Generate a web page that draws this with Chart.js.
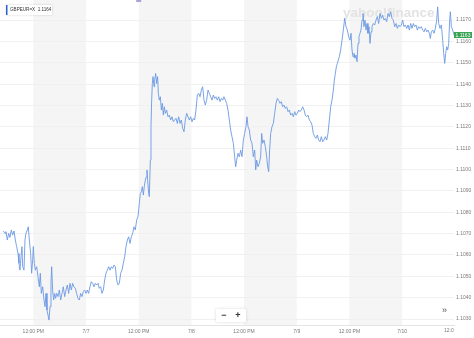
<!DOCTYPE html>
<html><head><meta charset="utf-8">
<script src="https://cdn.jsdelivr.net/npm/chart.js@4/dist/chart.umd.min.js"></script>
<style>html,body{margin:0;padding:0;background:#fff;overflow:hidden}canvas{display:block}</style>
</head><body>
<canvas id="c" width="474" height="338"></canvas>
<script>
const symbol = "GBPEUR=X";
const legendPrice = "1.1164";
const lastPriceLabel = "1.1163";
const lastPrice = 1.1163;
const watermarkText = "yahoo!finance";

// hours since 7/6 00:00
const hours = [
5.17,5.55,5.77,6.08,6.38,6.68,6.99,7.29,7.60,7.90,
8.20,8.51,8.73,8.96,9.19,9.42,9.57,9.87,10.10,10.33,
10.63,10.86,11.09,11.39,11.62,11.85,12.00,12.23,12.46,12.76,
13.06,13.37,13.59,13.82,14.13,14.43,14.66,14.89,15.11,15.34,
15.57,15.80,16.02,16.18,16.40,16.63,16.86,17.09,17.32,17.62,
17.92,18.23,18.53,18.83,19.14,19.44,19.74,20.05,20.35,20.66,
20.96,21.26,21.57,21.87,22.17,22.48,22.78,23.09,23.39,23.69,
24.00,24.30,24.60,24.91,25.21,25.52,25.82,26.12,26.43,26.73,
27.03,27.34,27.64,27.95,28.25,28.55,28.86,29.16,29.46,29.77,
30.07,30.38,30.68,30.98,31.29,31.59,31.89,32.20,32.50,32.81,
33.11,33.41,33.72,34.02,34.32,34.63,34.93,35.23,35.54,35.84,
36.15,36.37,36.60,36.83,37.06,37.28,37.51,37.74,37.89,38.04,
38.27,38.42,38.65,38.80,38.96,39.11,39.26,39.49,39.64,39.87,
40.09,40.32,40.47,40.70,40.93,41.16,41.39,41.61,41.84,42.07,
42.37,42.68,42.98,43.28,43.59,43.89,44.19,44.50,44.80,45.11,
45.41,45.71,46.02,46.32,46.62,46.93,47.23,47.54,47.84,48.14,
48.45,48.75,49.05,49.36,49.66,49.97,50.27,50.57,50.88,51.18,
51.48,51.79,52.09,52.39,52.70,53.00,53.31,53.61,53.91,54.22,
54.52,54.83,55.13,55.43,55.74,56.04,56.34,56.65,56.95,57.25,
57.56,57.86,58.09,58.32,58.62,58.92,59.23,59.53,59.84,60.14,
60.44,60.67,60.90,61.20,61.51,61.81,62.11,62.42,62.65,62.87,
63.18,63.48,63.78,64.01,64.24,64.54,64.85,65.15,65.38,65.61,
65.83,66.06,66.37,66.67,66.97,67.28,67.58,67.88,68.19,68.49,
68.80,69.10,69.40,69.71,70.01,70.31,70.62,70.92,71.23,71.53,
71.83,72.14,72.44,72.74,73.05,73.35,73.66,73.96,74.26,74.57,
74.87,75.17,75.48,75.78,76.08,76.39,76.69,77.00,77.30,77.60,
77.91,78.21,78.51,78.82,79.12,79.43,79.73,80.03,80.34,80.56,
80.79,81.02,81.25,81.48,81.70,82.01,82.31,82.61,82.92,83.22,
83.53,83.83,84.13,84.36,84.59,84.82,85.04,85.27,85.50,85.73,
85.96,86.18,86.41,86.64,86.87,87.09,87.32,87.55,87.78,88.01,
88.23,88.46,88.69,88.92,89.14,89.45,89.75,90.06,90.36,90.66,
90.97,91.27,91.58,91.88,92.18,92.49,92.79,93.09,93.40,93.70,
94.00,94.31,94.61,94.92,95.22,95.52,95.83,96.13,96.43,96.74,
97.04,97.35,97.65,97.95,98.26,98.56,98.86,99.17,99.47,99.78,
100.08,100.38,100.69,100.99,101.29,101.60,101.90,102.20,102.43,102.66,
102.96,103.27,103.57,103.88,104.10,104.33,104.63,104.94,105.24,105.47,
105.70,105.93,106.15,106.38,106.61,106.84,106.99,107.22,107.52,107.82
];

const rates = [
1.10712,1.10701,1.10709,1.10670,1.10701,1.10682,1.10717,1.10693,1.10712,1.10670,
1.10639,1.10607,1.10561,1.10529,1.10592,1.10639,1.10545,1.10529,1.10670,1.10701,
1.10717,1.10732,1.10670,1.10607,1.10514,1.10576,1.10639,1.10561,1.10529,1.10545,
1.10498,1.10451,1.10514,1.10420,1.10451,1.10389,1.10358,1.10420,1.10342,1.10319,
1.10295,1.10358,1.10467,1.10545,1.10436,1.10389,1.10420,1.10397,1.10420,1.10405,
1.10436,1.10389,1.10420,1.10451,1.10405,1.10436,1.10459,1.10420,1.10467,1.10436,
1.10467,1.10451,1.10444,1.10420,1.10397,1.10389,1.10420,1.10405,1.10428,1.10436,
1.10420,1.10436,1.10420,1.10451,1.10475,1.10467,1.10451,1.10467,1.10459,1.10467,
1.10444,1.10451,1.10420,1.10436,1.10483,1.10514,1.10529,1.10545,1.10529,1.10545,
1.10537,1.10553,1.10545,1.10483,1.10459,1.10467,1.10514,1.10529,1.10561,1.10592,
1.10639,1.10670,1.10685,1.10654,1.10685,1.10701,1.10732,1.10717,1.10764,1.10779,
1.10842,1.10888,1.10896,1.10920,1.10881,1.10920,1.10951,1.10966,1.10998,1.10951,
1.10888,1.10873,1.11044,1.11201,1.11325,1.11403,1.11435,1.11388,1.11419,1.11450,
1.11403,1.11435,1.11357,1.11325,1.11341,1.11279,1.11310,1.11255,1.11294,1.11263,
1.11279,1.11247,1.11255,1.11232,1.11247,1.11224,1.11232,1.11240,1.11216,1.11247,
1.11216,1.11232,1.11193,1.11177,1.11232,1.11263,1.11247,1.11232,1.11247,1.11224,
1.11240,1.11232,1.11279,1.11349,1.11357,1.11341,1.11372,1.11388,1.11325,1.11302,
1.11325,1.11372,1.11357,1.11341,1.11325,1.11349,1.11333,1.11341,1.11325,1.11341,
1.11318,1.11333,1.11325,1.11341,1.11325,1.11310,1.11279,1.11232,1.11185,1.11154,
1.11123,1.11060,1.11013,1.11044,1.11076,1.11060,1.11091,1.11060,1.11138,1.11169,
1.11201,1.11247,1.11201,1.11185,1.11138,1.11123,1.11060,1.11091,1.10998,1.11044,
1.11013,1.11029,1.11060,1.11169,1.11123,1.11138,1.11107,1.11060,1.11013,1.10990,
1.11091,1.11169,1.11201,1.11216,1.11263,1.11310,1.11333,1.11325,1.11310,1.11318,
1.11294,1.11302,1.11286,1.11294,1.11271,1.11279,1.11255,1.11263,1.11247,1.11271,
1.11255,1.11263,1.11279,1.11271,1.11279,1.11294,1.11279,1.11255,1.11247,1.11255,
1.11232,1.11224,1.11208,1.11169,1.11154,1.11146,1.11162,1.11138,1.11130,1.11154,
1.11130,1.11138,1.11154,1.11138,1.11169,1.11232,1.11294,1.11325,1.11372,1.11419,
1.11450,1.11481,1.11497,1.11513,1.11528,1.11560,1.11606,1.11653,1.11708,1.11669,
1.11653,1.11622,1.11606,1.11638,1.11560,1.11528,1.11544,1.11521,1.11536,1.11505,
1.11591,1.11622,1.11638,1.11653,1.11700,1.11731,1.11669,1.11700,1.11653,1.11684,
1.11638,1.11669,1.11591,1.11645,1.11669,1.11684,1.11677,1.11700,1.11716,1.11684,
1.11731,1.11708,1.11723,1.11700,1.11708,1.11692,1.11731,1.11716,1.11739,1.11708,
1.11700,1.11669,1.11684,1.11661,1.11677,1.11669,1.11677,1.11700,1.11669,1.11677,
1.11661,1.11677,1.11653,1.11684,1.11661,1.11684,1.11669,1.11677,1.11653,1.11669,
1.11661,1.11669,1.11653,1.11645,1.11661,1.11645,1.11653,1.11638,1.11614,1.11645,
1.11653,1.11638,1.11661,1.11700,1.11762,1.11684,1.11661,1.11677,1.11606,1.11544,
1.11497,1.11544,1.11575,1.11560,1.11591,1.11700,1.11739,1.11669,1.11653,1.11630
];

const xTickHours = [12,24,36,48,60,72,84,96,108];
const xTickLabels = ["12:00 PM","7/7","12:00 PM","7/8","12:00 PM","7/9","12:00 PM","7/10","12:00 PM"];
const yTickValues = [1.1030,1.1040,1.1050,1.1060,1.1070,1.1080,1.1090,1.1100,1.1110,1.1120,1.1130,1.1140,1.1150,1.1160,1.1170];
const shadedSessions = [[12,24],[36,48],[60,72],[84,96]];
const eventMarkerHours = [36];
const xMin = 4.41, xMax = 107.82, yMin = 1.10272, yMax = 1.11794;

const FONT = "'Liberation Sans', Arial, sans-serif";
Chart.defaults.font.family = FONT;

const bandsPlugin = {
  id: 'bands',
  beforeDraw(chart) {
    const {ctx, chartArea: a, scales: {x}} = chart;
    ctx.save();
    ctx.fillStyle = '#f5f5f5';
    shadedSessions.forEach(([s, e]) => {
      const x0 = Math.max(a.left, x.getPixelForValue(s));
      const x1 = Math.min(a.right, x.getPixelForValue(e));
      if (x1 > x0) ctx.fillRect(x0, a.top, x1 - x0, a.bottom - a.top);
    });
    ctx.restore();
  },
  beforeDatasetsDraw(chart) {
    const {ctx} = chart;
    ctx.save();
    ctx.font = "bold 13.5px " + FONT;
    ctx.fillStyle = '#e3e3e3';
    ctx.textBaseline = 'alphabetic';
    ctx.fillText(watermarkText, 343, 17);
    ctx.restore();
  },
  afterDraw(chart) {
    const {ctx, chartArea: a, scales: {x, y}} = chart;
    ctx.save();
    // clipped last x label
    ctx.beginPath(); ctx.rect(0, a.bottom, a.right, 338 - a.bottom); ctx.clip();
    ctx.font = "5px " + FONT; ctx.fillStyle = '#7a7a7a';
    ctx.textAlign = 'center'; ctx.textBaseline = 'top';
    xTickHours.forEach((h, i) => { if (h > xMax) ctx.fillText(xTickLabels[i], x.getPixelForValue(h), a.bottom + 3.5); });
    ctx.restore();

    ctx.save();
    // event marker
    ctx.fillStyle = '#aaa3d8';
    eventMarkerHours.forEach(h => { const px = x.getPixelForValue(h); ctx.fillRect(px - 2.5, 0, 5, 2); });
    // legend box
    ctx.shadowColor = 'rgba(0,0,0,0.18)'; ctx.shadowBlur = 2;
    ctx.fillStyle = '#fff'; ctx.fillRect(6, 5, 46, 10);
    ctx.shadowBlur = 0; ctx.shadowColor = 'transparent';
    ctx.fillStyle = '#2a62d6'; ctx.fillRect(6, 5, 1.5, 10);
    ctx.fillStyle = '#333'; ctx.font = "4.6px " + FONT; ctx.textBaseline = 'middle';
    ctx.fillText(symbol + "  " + legendPrice, 10, 10.2);
    // last price label
    const py = y.getPixelForValue(lastPrice);
    ctx.fillStyle = '#3aa255'; ctx.fillRect(a.right, py - 3, 18, 6);
    ctx.fillStyle = '#fff'; ctx.font = "5px " + FONT; ctx.textBaseline = 'middle';
    ctx.fillText(lastPriceLabel, a.right + 1.5, py + 0.2);
    // zoom buttons
    ctx.shadowColor = 'rgba(0,0,0,0.15)'; ctx.shadowBlur = 3;
    ctx.fillStyle = '#fff'; ctx.fillRect(216, 309, 30, 13);
    ctx.shadowBlur = 0; ctx.shadowColor = 'transparent';
    ctx.fillStyle = '#333'; ctx.textAlign = 'center'; ctx.textBaseline = 'middle';
    ctx.font = "bold 9px " + FONT;
    ctx.fillText("\u2212", 224, 315.5);
    ctx.fillText("+", 238, 315.5);
    ctx.font = "9px " + FONT; ctx.fillStyle = '#555';
    ctx.fillText("\u00BB", 444.5, 310.5);
    ctx.restore();
  }
};

new Chart(document.getElementById('c'), {
  type: 'line',
  data: {
    datasets: [{
      data: hours.map((h, i) => ({x: h, y: rates[i]})),
      borderColor: '#6b98e3',
      borderWidth: 0.9,
      pointRadius: 0,
      tension: 0,
      fill: false
    }]
  },
  options: {
    responsive: false,
    animation: false,
    events: [],
    layout: {padding: 0},
    plugins: {legend: {display: false}, tooltip: {enabled: false}},
    scales: {
      x: {
        type: 'linear', position: 'bottom', min: xMin, max: xMax,
        grid: {display: false, drawTicks: false},
        border: {display: true, color: '#e4e4e4', width: 1},
        afterBuildTicks(s) { s.ticks = xTickHours.filter(h => h <= xMax).map(v => ({value: v})); },
        afterFit(s) { s.height = 13; s.paddingLeft = 0; s.paddingRight = 0; },
        ticks: {
          autoSkip: false, maxRotation: 0, minRotation: 0, padding: 3.5,
          color: '#7a7a7a', font: {size: 5},
          callback: (v) => { const i = xTickHours.indexOf(v); return i >= 0 ? xTickLabels[i] : ''; }
        }
      },
      y: {
        type: 'linear', position: 'right', min: yMin, max: yMax,
        grid: {color: '#f0f0f0', drawTicks: false, lineWidth: 1},
        border: {display: false},
        afterBuildTicks(s) { s.ticks = yTickValues.map(v => ({value: v})); },
        afterFit(s) { s.width = 20; s.paddingTop = 0; s.paddingBottom = 0; },
        ticks: {
          padding: 2, color: '#7a7a7a', font: {size: 5},
          callback: (v) => Number(v).toFixed(4)
        }
      }
    }
  },
  plugins: [bandsPlugin]
});
</script>
</body></html>
